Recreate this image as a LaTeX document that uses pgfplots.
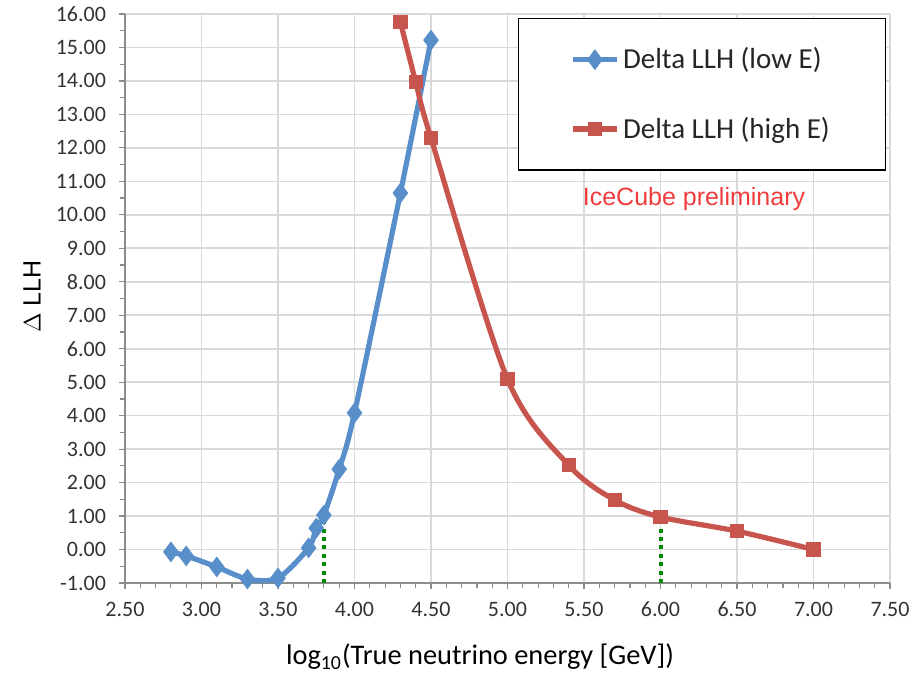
\documentclass[border=0pt]{standalone}
\usepackage{pgfplots}
\pgfplotsset{compat=1.18}
\usepackage{fontspec}
\setmainfont{Carlito}
\newfontfamily\arial{Liberation Sans}
\definecolor{sblue}{RGB}{88,143,202}
\definecolor{sred}{RGB}{200,84,78}
\definecolor{gridgray}{RGB}{217,217,217}
\definecolor{axgray}{RGB}{140,140,140}
\definecolor{icered}{RGB}{240,60,60}
\definecolor{dgreen}{RGB}{0,140,0}
\begin{document}
\begin{tikzpicture}
\begin{axis}[
  scale only axis,
  width=382.5pt, height=284.5pt,
  xmin=2.5, xmax=7.5, ymin=-1, ymax=16,
  xtick={2.5,3,3.5,4,4.5,5,5.5,6,6.5,7,7.5},
  xticklabels={2.50,3.00,3.50,4.00,4.50,5.00,5.50,6.00,6.50,7.00,7.50},
  ytick={-1,0,...,16},
  yticklabels={-1.00,0.00,1.00,2.00,3.00,4.00,5.00,6.00,7.00,8.00,9.00,10.00,11.00,12.00,13.00,14.00,15.00,16.00},
  minor x tick num=4, minor y tick num=1,
  tick align=outside,
  major tick length=3pt, minor tick length=2.5pt,
  tick style={axgray, line width=0.6pt},
  axis x line*=bottom, axis y line*=left,
  axis line style={axgray, line width=0.8pt, -},
  grid=major,
  major grid style={gridgray, line width=0.8pt},
  ticklabel style={font=\fontsize{11}{13}\selectfont, text=black!80},
  yticklabel style={xshift=-3pt},
  xticklabel style={yshift=-3pt},
  every axis x label/.style={at={(axis description cs:0.464,-0.130)}, anchor=center},
  every axis y label/.style={at={(axis description cs:-0.1216,0.503)}, rotate=90, anchor=center},
  xlabel={\fontsize{14.2}{16}\selectfont log\textsubscript{10}(True neutrino energy [GeV])},
  ylabel={\arial\fontsize{12.5}{15}\selectfont $\Delta$ LLH},
  legend style={at={(0.514,0.993)}, anchor=north west, draw=black, line width=0.6pt,
    inner xsep=26pt, inner ysep=12.5pt, row sep=18.5pt,
    font=\fontsize{14.5}{16}\selectfont, text=black!85, cells={anchor=west}},
  legend image code/.code={\draw[mark repeat=2,mark phase=2,#1] plot coordinates {(0pt,0pt) (10.75pt,0pt) (21.5pt,0pt)};},
  clip=false,
]
\addplot[sblue, line width=2.6pt, smooth, tension=0.5, mark=diamond*, mark size=4.8pt,
  mark options={solid, fill=sblue, draw=sblue, line width=0.5pt}]
  coordinates {(2.80,-0.07) (2.90,-0.19) (3.10,-0.52) (3.30,-0.88) (3.50,-0.85) (3.70,0.05) (3.75,0.64) (3.80,1.03) (3.90,2.40) (4.00,4.08) (4.30,10.65) (4.50,15.22)};
\addlegendentry{Delta LLH (low E)}
\addplot[sred, line width=2.6pt, smooth, tension=0.5, mark=square*, mark size=3.3pt,
  mark options={solid, fill=sred, draw=sred, line width=0.5pt}]
  coordinates {(4.30,15.76) (4.40,13.97) (4.50,12.29) (5.00,5.09) (5.40,2.52) (5.70,1.48) (6.00,0.97) (6.50,0.55) (7.00,0.00)};
\addlegendentry{Delta LLH (high E)}
\addplot[dgreen, line width=2pt, dash pattern=on 2pt off 2.2pt, forget plot] coordinates {(3.80,-1) (3.80,1.03)};
\addplot[dgreen, line width=2pt, dash pattern=on 2pt off 2.2pt, forget plot] coordinates {(6.00,-1) (6.00,0.97)};
\node[text=icered, font=\arial\fontsize{12.5}{15}\selectfont] at (axis cs:6.219,10.47) {IceCube preliminary};
\end{axis}
\pgfresetboundingbox
\path ([shift={(-62.5pt,-46.5pt)}]current axis.south west) rectangle ([shift={(16pt,7pt)}]current axis.north east);
\end{tikzpicture}
\end{document}
